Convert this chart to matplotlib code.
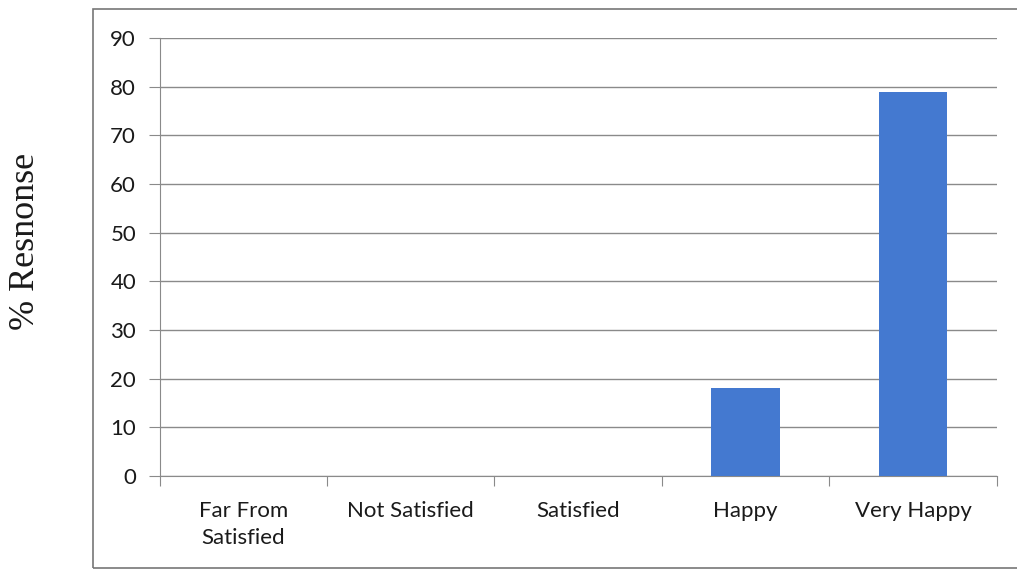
import matplotlib
matplotlib.use("Agg")
import matplotlib.pyplot as plt
from matplotlib.patches import Rectangle

# ----- datos -----
categories = ["Far From\nSatisfied", "Not Satisfied", "Satisfied", "Happy", "Very Happy"]
response = [0, 0, 0, 18, 79]
yticks = [0, 10, 20, 30, 40, 50, 60, 70, 80, 90]

BLUE = "#4479D0"
GRID = "#8a8a8a"
TXT = "#1a1a1a"

fig = plt.figure(figsize=(10.17, 5.75), dpi=100)
ax = fig.add_axes([0.157, 0.172, 0.823, 0.762])

x = range(len(categories))
ax.bar(x, response, width=0.41, color=BLUE, zorder=3)

ax.set_xlim(-0.5, len(categories) - 0.5)
ax.set_ylim(0, 90)
ax.set_yticks(yticks)
ax.yaxis.grid(True, color=GRID, lw=1.0, zorder=0)
ax.set_axisbelow(True)

# ticks en los bordes de las categorias, etiquetas centradas
ax.set_xticks([i - 0.5 for i in range(len(categories) + 1)])
ax.set_xticklabels([])
ax.set_xticks(list(x), minor=True)
ax.set_xticklabels(categories, minor=True, fontsize=16, family="Lato",
                   linespacing=1.45, color=TXT)
ax.tick_params(axis="x", which="minor", length=0, pad=18)
ax.tick_params(axis="x", which="major", length=7, color=GRID, direction="out")
ax.tick_params(axis="y", length=8, color=GRID, pad=9, labelsize=16, labelcolor=TXT)
for lab in ax.get_yticklabels():
    lab.set_family("Lato")

for s in ["top", "right"]:
    ax.spines[s].set_visible(False)
ax.spines["left"].set_color(GRID)
ax.spines["bottom"].set_color(GRID)

fig.text(0.025, 0.58, "% Resnonse", rotation=90, ha="center", va="center",
         fontsize=26, family="Liberation Serif", color=TXT)

# marco exterior
fig.patches.append(Rectangle((0.091, 0.012), 0.93, 0.973, transform=fig.transFigure,
                             fill=False, edgecolor="#777777", lw=1.2))

fig.savefig("out.png", dpi=100)
